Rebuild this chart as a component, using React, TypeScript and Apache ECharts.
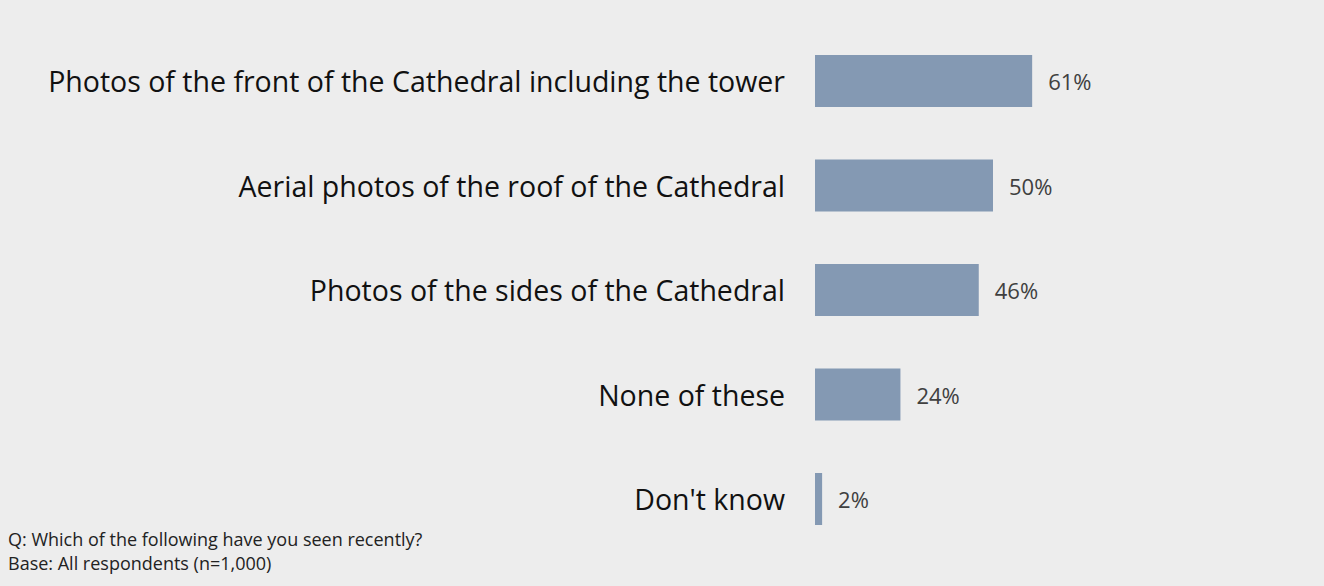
import React, { useEffect, useRef } from "react";
import * as echarts from "echarts";

const categories = [
  "Photos of the front of the Cathedral including the tower",
  "Aerial photos of the roof of the Cathedral",
  "Photos of the sides of the Cathedral",
  "None of these",
  "Don't know",
];
const values = [61, 50, 46, 24, 2];
const footnotes = [
  "Q: Which of the following have you seen recently?",
  "Base: All respondents (n=1,000)",
];

export default function App() {
  const ref = useRef<HTMLDivElement>(null);
  useEffect(() => {
    if (!ref.current) return;
    const chart = echarts.init(ref.current, null, { renderer: "svg" });
    chart.setOption({
      animation: false,
      backgroundColor: "#ededed",
      grid: { left: 815, right: 153, top: 28.75, bottom: 34.75, containLabel: false },
      xAxis: {
        type: "value",
        min: 0,
        max: 100,
        show: false,
      },
      yAxis: {
        type: "category",
        data: categories,
        inverse: true,
        axisLine: { show: false },
        axisTick: { show: false },
        splitLine: { show: false },
        axisLabel: {
          margin: 30,
          fontSize: 28.5,
          color: "#111111",
          fontFamily: "Open Sans",
        },
      },
      series: [
        {
          type: "bar",
          data: values,
          barWidth: 52,
          itemStyle: { color: "#8499b3" },
          label: {
            show: true,
            position: "right",
            distance: 16,
            formatter: "{c}%",
            fontSize: 22,
            color: "#404040",
            fontFamily: "Open Sans",
          },
        },
      ],
      graphic: footnotes.map((t, i) => ({
        type: "text",
        left: 8,
        top: 528 + i * 24,
        style: {
          text: t,
          fontSize: 18,
          lineHeight: 21,
          fill: "#222222",
          fontFamily: "Open Sans",
        },
      })),
    });
    return () => chart.dispose();
  }, []);
  return (
    <div
      ref={ref}
      style={{ position: "fixed", left: 0, top: 0, width: 1324, height: 586 }}
    />
  );
}
